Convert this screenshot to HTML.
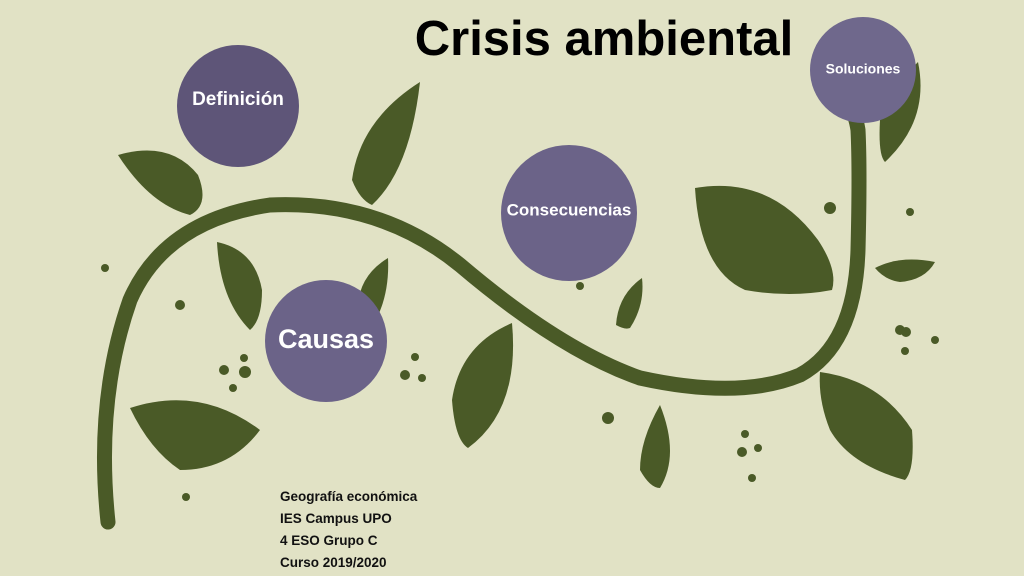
<!DOCTYPE html>
<html><head><meta charset="utf-8"><style>
html,body{margin:0;padding:0;width:1024px;height:576px;overflow:hidden;background:#e1e2c5;}
svg{position:absolute;left:0;top:0}
.t{font-family:"Liberation Sans",sans-serif;font-weight:bold}
</style></head><body>
<svg width="1024" height="576" viewBox="0 0 1024 576">
<g fill="#4a5a27">
<path d="M118 155 Q170 140 198 175 Q210 205 190 215 Q150 205 118 155Z"/>
<path d="M420 82 Q360 120 352 180 Q360 200 372 205 Q410 170 420 82Z"/>
<path d="M217 242 Q255 250 262 290 Q262 320 250 330 Q220 300 217 242Z"/>
<path d="M388 258 Q360 275 358 305 Q360 325 370 330 Q390 300 388 258Z"/>
<path d="M130 408 Q200 385 260 430 Q230 470 180 470 Q150 450 130 408Z"/>
<path d="M512 323 Q460 345 452 400 Q455 440 468 448 Q520 410 512 323Z"/>
<path d="M642 278 Q618 295 616 325 Q625 330 630 328 Q645 305 642 278Z"/>
<path d="M695 188 Q770 175 818 240 Q838 270 832 290 Q790 298 745 290 Q700 270 695 188Z"/>
<path d="M660 405 Q640 440 640 470 Q650 488 660 488 Q680 455 660 405Z"/>
<path d="M820 372 Q880 380 912 430 Q915 470 905 480 Q850 465 830 430 Q818 400 820 372Z"/>
<path d="M918 62 Q895 85 880 120 Q878 155 885 162 Q930 120 918 62Z"/>
<path d="M875 268 Q900 255 935 262 Q925 280 900 282 Q885 280 875 268Z"/>
<circle cx="105" cy="268" r="4"/><circle cx="180" cy="305" r="5"/>
<circle cx="224" cy="370" r="5"/><circle cx="245" cy="372" r="6"/><circle cx="244" cy="358" r="4"/><circle cx="233" cy="388" r="4"/>
<circle cx="186" cy="497" r="4"/><circle cx="405" cy="375" r="5"/><circle cx="422" cy="378" r="4"/><circle cx="415" cy="357" r="4"/>
<circle cx="580" cy="286" r="4"/><circle cx="608" cy="418" r="6"/>
<circle cx="745" cy="434" r="4"/><circle cx="742" cy="452" r="5"/><circle cx="758" cy="448" r="4"/><circle cx="752" cy="478" r="4"/>
<circle cx="830" cy="208" r="6"/><circle cx="910" cy="212" r="4"/>
<circle cx="900" cy="330" r="5"/><circle cx="906" cy="332" r="5"/><circle cx="905" cy="351" r="4"/><circle cx="935" cy="340" r="4"/>
</g>
<path d="M108 522 Q95 400 130 300 Q165 220 270 205 Q380 200 460 265 Q560 350 640 378 Q740 400 800 375 Q855 345 858 250 Q860 170 858 130 Q855 110 845 100" fill="none" stroke="#4a5a27" stroke-width="15" stroke-linecap="round"/>
<circle cx="238" cy="106" r="61" fill="#5e5578"/>
<circle cx="569" cy="213" r="68" fill="#6b6388"/>
<circle cx="326" cy="341" r="61" fill="#6b6388"/>
<circle cx="863" cy="70" r="53" fill="#6f688c"/>
<text x="238" y="100" class="t" font-size="19" fill="#fff" text-anchor="middle" dominant-baseline="middle">Definición</text>
<text x="569" y="211" class="t" font-size="17" fill="#fff" text-anchor="middle" dominant-baseline="middle">Consecuencias</text>
<text x="326" y="341" class="t" font-size="27" fill="#fff" text-anchor="middle" dominant-baseline="middle">Causas</text>
<text x="863" y="70" class="t" font-size="14" fill="#fff" text-anchor="middle" dominant-baseline="middle">Soluciones</text>
<text x="604" y="55" class="t" font-size="49" fill="#000" text-anchor="middle">Crisis ambiental</text>
<g class="t" font-size="13.5" fill="#111">
<text x="280" y="501">Geografía económica</text>
<text x="280" y="523">IES Campus UPO</text>
<text x="280" y="545">4 ESO Grupo C</text>
<text x="280" y="567">Curso 2019/2020</text>
</g>
</svg>
</body></html>
